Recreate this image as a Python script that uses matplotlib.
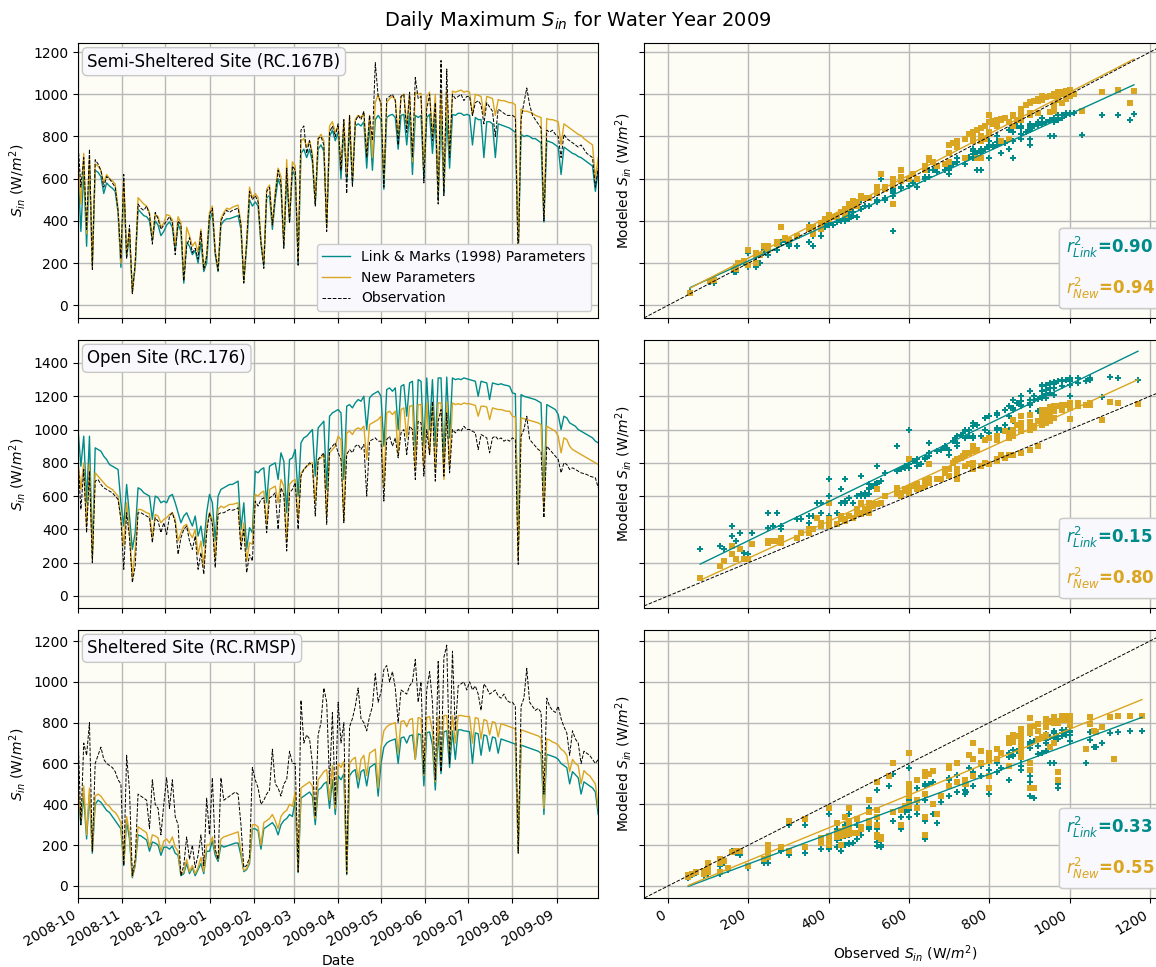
import numpy as np
import pandas as pd
import matplotlib
matplotlib.use("Agg")
import matplotlib.pyplot as plt
import matplotlib.dates as mdates
from matplotlib.lines import Line2D

# every second day, 2008-10-01 .. 2009-09-29 (one row per month)
start_date = "2008-10-01"

# ---- Semi-Sheltered Site (RC.167B) ----
obs_semi = [770, 560, 700, 360, 740, 170, 690, 670, 640, 560, 610, 600, 580, 560, 450, 220,
            620, 220, 380, 55, 200, 480, 460, 450, 470, 430, 290, 440, 410, 360, 380,
            400, 420, 390, 240, 400, 380, 115, 280, 320, 250, 270, 220, 350, 170, 230,
            430, 460, 250, 165, 400, 430, 450, 440, 450, 455, 460, 380, 105, 300, 540, 500,
            520, 490, 300, 175, 540, 560, 380, 520, 640, 580, 270, 650, 390, 660,
            640, 190, 830, 850, 720, 780, 700, 470, 790, 800, 760, 350, 820, 850, 800,
            860, 640, 880, 530, 900, 560, 870, 900, 880, 920, 700, 900, 780, 1150, 990,
            960, 560, 980, 990, 1000, 970, 760, 990, 1000, 820, 1010, 700, 1080, 980, 990, 580,
            930, 1000, 780, 960, 480, 1160, 520, 1120, 700, 1000, 980, 990, 1000, 970, 990,
            990, 900, 960, 970, 950, 860, 960, 940, 920, 800, 930, 920, 910, 900, 900,
            900, 890, 200, 880, 960, 1030, 950, 900, 880, 860, 840, 400, 830, 820, 830, 810,
            800, 700, 810, 790, 780, 770, 760, 750, 760, 740, 720, 710, 700, 560, 650]
link_semi = [640, 350, 640, 280, 670, 190, 640, 630, 610, 530, 580, 565, 555, 540, 440, 180,
             560, 230, 330, 70, 180, 455, 440, 425, 420, 400, 310, 400, 380, 330, 350,
             380, 395, 370, 260, 385, 350, 105, 300, 280, 240, 260, 200, 300, 160, 200,
             400, 440, 240, 160, 380, 400, 410, 410, 415, 420, 425, 360, 110, 280, 500, 470,
             490, 470, 290, 190, 510, 520, 360, 500, 600, 560, 280, 610, 400, 640,
             610, 200, 720, 740, 700, 740, 680, 480, 740, 760, 730, 380, 800, 830, 780,
             820, 600, 840, 600, 850, 580, 850, 860, 850, 870, 650, 860, 640, 880, 900,
             880, 550, 890, 900, 905, 890, 740, 900, 905, 760, 910, 620, 900, 890, 900, 600,
             890, 905, 720, 890, 500, 905, 530, 900, 650, 905, 900, 910, 910, 900, 905,
             900, 760, 890, 880, 880, 700, 870, 870, 860, 700, 860, 855, 850, 845, 840,
             830, 820, 250, 810, 800, 805, 800, 790, 790, 780, 770, 395, 780, 775, 770, 760,
             750, 620, 750, 740, 730, 720, 715, 705, 700, 690, 680, 670, 660, 540, 640]
new_semi = [700, 480, 720, 340, 700, 180, 670, 660, 640, 580, 620, 600, 590, 575, 460, 200,
            600, 240, 360, 60, 190, 510, 495, 480, 470, 440, 320, 430, 420, 370, 390,
            430, 425, 405, 280, 420, 390, 120, 370, 330, 280, 300, 250, 360, 170, 240,
            440, 470, 260, 170, 410, 440, 460, 455, 465, 470, 475, 390, 115, 310, 560, 510,
            530, 510, 310, 200, 550, 570, 380, 540, 650, 610, 290, 690, 410, 680,
            660, 210, 780, 790, 750, 780, 720, 490, 790, 810, 780, 370, 850, 870, 820,
            850, 650, 880, 620, 900, 600, 880, 900, 890, 910, 720, 900, 700, 960, 1000,
            950, 600, 960, 980, 990, 975, 800, 990, 1000, 850, 1000, 680, 1010, 1000, 1005, 640,
            990, 1010, 800, 1000, 520, 1015, 560, 1020, 720, 1015, 1010, 1015, 1020, 1010, 1015,
            1010, 900, 1000, 995, 990, 900, 990, 985, 980, 900, 975, 970, 970, 965, 960,
            960, 950, 260, 930, 920, 920, 915, 910, 900, 895, 890, 420, 885, 880, 880, 875,
            870, 760, 860, 850, 840, 830, 820, 810, 805, 790, 780, 770, 760, 600, 700]

# ---- Open Site (RC.176) ----
obs_open = [820, 520, 760, 380, 750, 200, 690, 700, 670, 650, 640, 630, 620, 600, 580, 460,
            160, 500, 350, 80, 180, 500, 500, 490, 480, 470, 320, 470, 450, 380, 440,
            370, 480, 500, 440, 250, 350, 400, 420, 330, 280, 360, 160, 260, 130, 380,
            500, 430, 170, 490, 500, 500, 510, 520, 515, 520, 530, 280, 400, 140, 250, 210,
            570, 540, 580, 590, 380, 590, 600, 620, 400, 650, 610, 270, 620, 640,
            680, 400, 720, 760, 780, 800, 790, 480, 820, 840, 860, 430, 880, 900, 920,
            860, 820, 440, 850, 880, 860, 900, 910, 880, 910, 600, 930, 940, 950, 930,
            930, 570, 940, 960, 900, 950, 830, 980, 1000, 850, 1020, 1000, 700, 1050, 1040, 720,
            1000, 850, 1170, 690, 1050, 1120, 720, 1100, 740, 1000, 980, 1000, 990, 1020, 1000,
            1000, 990, 980, 880, 970, 960, 950, 860, 950, 960, 940, 950, 930, 940, 930,
            950, 940, 190, 960, 1000, 1080, 940, 920, 900, 880, 870, 470, 900, 880, 860, 840,
            820, 740, 800, 790, 760, 770, 760, 750, 740, 735, 730, 720, 715, 710, 650]
link_open = [1000, 780, 960, 560, 960, 250, 890, 880, 870, 840, 820, 790, 780, 770, 760, 560,
             420, 670, 480, 280, 380, 650, 640, 620, 610, 600, 460, 600, 590, 560, 570,
             560, 600, 610, 560, 500, 440, 480, 500, 460, 420, 480, 360, 420, 300, 500,
             610, 560, 330, 600, 640, 650, 660, 670, 670, 680, 690, 400, 560, 280, 410, 380,
             750, 740, 760, 770, 560, 780, 790, 800, 700, 860, 810, 500, 820, 830,
             880, 600, 920, 950, 960, 980, 1000, 720, 1010, 1030, 1050, 640, 1080, 1100, 1110,
             1120, 1100, 700, 1140, 1150, 1130, 1160, 1180, 1170, 1200, 1000, 1190, 1210, 1220, 1230,
             1200, 900, 1240, 1250, 1230, 1250, 1000, 1260, 1270, 1080, 1280, 1290, 850, 1300, 1290, 900,
             1310, 1000, 1300, 900, 1310, 1310, 820, 1315, 950, 1310, 1300, 1305, 1300, 1310, 1305,
             1300, 1295, 1290, 1200, 1290, 1285, 1280, 1180, 1280, 1275, 1270, 1275, 1268, 1265, 1260,
             1220, 1215, 260, 1210, 1200, 1195, 1190, 1185, 1180, 1170, 1160, 600, 1150, 1140, 1130, 1120,
             1090, 1000, 1080, 1070, 1040, 1030, 1020, 1000, 990, 980, 970, 960, 950, 930, 920]
new_open = [810, 640, 800, 420, 790, 220, 740, 720, 700, 680, 660, 650, 640, 620, 600, 470,
            300, 560, 400, 110, 280, 520, 520, 510, 500, 495, 350, 490, 480, 440, 460,
            470, 490, 500, 460, 330, 380, 420, 430, 380, 350, 400, 250, 330, 180, 420,
            500, 460, 220, 520, 540, 530, 540, 550, 550, 555, 560, 320, 440, 210, 320, 310,
            610, 600, 620, 630, 430, 640, 650, 660, 560, 700, 660, 330, 670, 690,
            700, 460, 740, 760, 780, 790, 800, 560, 820, 830, 850, 480, 860, 880, 900,
            960, 940, 450, 980, 990, 970, 1000, 1010, 1000, 1020, 820, 1030, 1040, 1050, 1060,
            1080, 650, 1100, 1110, 1090, 1110, 850, 1120, 1130, 950, 1140, 1145, 760, 1150, 1150, 760,
            1160, 850, 1155, 760, 1160, 1160, 700, 1165, 780, 1160, 1150, 1155, 1150, 1160, 1155,
            1155, 1150, 1145, 1080, 1140, 1140, 1135, 1060, 1130, 1125, 1120, 1120, 1115, 1110, 1110,
            1080, 1075, 220, 1070, 1065, 1060, 1055, 1050, 1045, 1040, 1030, 520, 1020, 1010, 1000, 990,
            960, 860, 950, 940, 900, 880, 870, 860, 850, 840, 830, 820, 810, 800, 790]

# ---- Sheltered Site (RC.RMSP) ----
obs_shel = [742, 300, 700, 640, 800, 170, 600, 640, 680, 620, 600, 590, 580, 560, 520, 500,
            100, 640, 470, 50, 130, 450, 440, 430, 420, 280, 520, 400, 380, 250, 400,
            530, 380, 520, 340, 300, 50, 100, 240, 130, 200, 90, 150, 250, 100, 430,
            250, 530, 180, 130, 530, 420, 430, 440, 450, 460, 450, 300, 90, 100, 140, 580,
            520, 480, 400, 420, 450, 470, 670, 500, 480, 440, 500, 520, 660, 600,
            600, 70, 910, 700, 740, 720, 600, 340, 740, 800, 970, 900, 500, 850, 400,
            900, 700, 800, 60, 780, 820, 880, 970, 820, 800, 760, 830, 880, 1040, 900,
            950, 1060, 1080, 1000, 1050, 970, 800, 960, 950, 940, 980, 1000, 1110, 900, 1000, 550,
            960, 1050, 900, 520, 1100, 560, 1120, 1180, 600, 1150, 760, 980, 990, 1000, 960,
            1000, 960, 980, 940, 860, 990, 970, 940, 950, 960, 930, 920, 940, 910, 900,
            900, 880, 160, 880, 920, 1066, 900, 880, 860, 870, 850, 450, 920, 880, 860, 850,
            880, 820, 780, 750, 640, 760, 720, 700, 600, 660, 650, 640, 620, 600, 620]
link_shel = [460, 300, 440, 230, 450, 160, 400, 420, 410, 390, 370, 360, 340, 320, 300, 280,
             100, 320, 230, 40, 100, 250, 245, 235, 225, 170, 215, 210, 200, 150, 190,
             190, 180, 195, 160, 150, 50, 60, 110, 60, 90, 50, 80, 110, 60, 170,
             170, 220, 150, 120, 200, 190, 195, 200, 205, 210, 210, 150, 70, 80, 110, 280,
             280, 270, 180, 280, 290, 300, 310, 290, 250, 300, 320, 330, 350, 340,
             420, 65, 430, 440, 450, 460, 440, 300, 470, 480, 500, 510, 380, 520, 350,
             540, 520, 550, 55, 540, 560, 570, 480, 560, 570, 490, 580, 590, 600, 440,
             600, 680, 700, 710, 715, 720, 600, 725, 730, 700, 735, 740, 620, 745, 740, 490,
             750, 755, 690, 470, 750, 550, 755, 760, 580, 760, 620, 765, 765, 760, 758,
             755, 600, 750, 745, 640, 740, 735, 660, 730, 725, 650, 720, 715, 710, 705,
             700, 695, 170, 690, 685, 680, 675, 670, 665, 660, 650, 350, 645, 640, 635, 630,
             620, 600, 590, 580, 500, 560, 545, 530, 450, 510, 500, 490, 480, 460, 350]
new_shel = [500, 320, 490, 250, 480, 170, 440, 450, 440, 420, 400, 390, 370, 360, 340, 310,
            110, 340, 260, 45, 110, 290, 280, 270, 260, 190, 250, 245, 235, 170, 220,
            230, 210, 240, 190, 170, 55, 70, 130, 70, 100, 60, 90, 140, 70, 200,
            200, 240, 170, 130, 230, 240, 245, 250, 255, 260, 265, 170, 75, 85, 120, 300,
            300, 290, 200, 310, 320, 330, 350, 320, 280, 340, 360, 370, 400, 390,
            460, 70, 480, 490, 500, 510, 490, 330, 520, 540, 560, 570, 420, 590, 380,
            600, 580, 610, 60, 600, 620, 630, 520, 620, 640, 540, 650, 660, 670, 480,
            680, 760, 780, 790, 795, 800, 650, 805, 810, 780, 815, 820, 620, 825, 820, 540,
            825, 830, 760, 510, 830, 600, 835, 835, 650, 835, 700, 835, 835, 832, 830,
            830, 700, 825, 820, 720, 815, 810, 740, 805, 800, 730, 795, 790, 785, 780,
            775, 770, 165, 765, 760, 755, 750, 745, 740, 735, 725, 380, 720, 715, 705, 700,
            690, 670, 660, 640, 560, 620, 600, 590, 500, 565, 550, 540, 520, 500, 380]

site_names = ["Semi-Sheltered Site (RC.167B)", "Open Site (RC.176)", "Sheltered Site (RC.RMSP)"]
r2_link = ["0.90", "0.15", "0.33"]
r2_new = ["0.94", "0.80", "0.55"]

sites = [(obs_semi, link_semi, new_semi),
         (obs_open, link_open, new_open),
         (obs_shel, link_shel, new_shel)]

teal = "#008b8b"
gold = "#daa520"
bg = "#fdfdf6"
box_fc = "#f9f8fc"

fig = plt.figure(figsize=(11.56, 9.67), dpi=100)
fig.text(0.5, 1 - 20 / 967, "Daily Maximum $S_{in}$ for Water Year 2009",
         ha="center", va="center", fontsize=14)

# panel rows in figure fractions (bottom, height) and y limits
rows = [(0.6712, 0.2843, (-60, 1243)),
        (0.3713, 0.2771, (-72, 1538)),
        (0.0714, 0.2771, (-59, 1254))]

axL0 = axR0 = None
for k, (obs, link, new) in enumerate(sites):
    bottom, height, ylim = rows[k]
    axL = fig.add_axes([0.0675, bottom, 0.45, height], sharex=axL0)
    axR = fig.add_axes([0.5571, bottom, 0.4516, height], sharex=axR0, sharey=axL)
    if axL0 is None:
        axL0, axR0 = axL, axR

    obs = np.array(obs, dtype=float)
    link = np.array(link, dtype=float)
    new = np.array(new, dtype=float)
    dates = pd.date_range(start_date, periods=len(obs), freq="2D")

    # time series
    for ax in (axL, axR):
        ax.set_facecolor(bg)
        ax.grid(True, color="#b8b8b8", lw=1.0)
        ax.set_axisbelow(True)
    l1, = axL.plot(dates, link, color=teal, lw=1.0, label="Link & Marks (1998) Parameters")
    l2, = axL.plot(dates, new, color=gold, lw=1.0, label="New Parameters")
    l3, = axL.plot(dates, obs, color="k", ls="--", lw=0.7, label="Observation")
    axL.set_ylim(*ylim)
    axL.set_xlim(pd.Timestamp("2008-10-01"), pd.Timestamp("2009-09-30"))
    axL.set_ylabel("$S_{in}$ (W/$m^2$)", fontsize=10)
    axL.text(0.018, 0.965, site_names[k], transform=axL.transAxes, fontsize=12,
             va="top", ha="left",
             bbox=dict(boxstyle="round,pad=0.3", fc=box_fc, ec="#c8c8c8"))
    if k == 0:
        axL.legend(handles=[l1, l2, l3], loc="lower right", fontsize=10,
                   facecolor=box_fc, framealpha=1.0, edgecolor="#cccccc")

    # scatter
    s1 = axR.scatter(obs, link, marker="P", s=20, color=teal, lw=0,
                     label="Link & Marks (1998) Parameters")
    s2 = axR.scatter(obs, new, marker="s", s=13, color=gold, lw=0, label="New Parameters")
    xs = np.array([obs.min(), obs.max()])
    p_link = np.polyfit(obs, link, 1)
    p_new = np.polyfit(obs, new, 1)
    axR.plot(xs, np.polyval(p_link, xs), color=teal, lw=1.0)
    axR.plot(xs, np.polyval(p_new, xs), color=gold, lw=1.0)
    one = axR.axline((0, 0), slope=1, color="k", ls="--", lw=0.7, label="1:1 Line")
    axR.set_xlim(-60, 1240)
    axR.set_ylabel("Modeled $S_{in}$ (W/$m^2$)", fontsize=10)
    axR.tick_params(labelleft=False)
    if k == 0:
        axR.legend(handles=[s1, s2, one], loc="upper left", fontsize=10,
                   facecolor=box_fc, framealpha=1.0, edgecolor="#cccccc")

    blank = [Line2D([], [], ls="none"), Line2D([], [], ls="none")]
    leg = axR.legend(blank, [r"$r^2_{Link}$=" + r2_link[k], r"$r^2_{New}$=" + r2_new[k]],
                     loc="lower right", bbox_to_anchor=(1.01, 0.0),
                     handlelength=0, handletextpad=0,
                     labelcolor=[teal, gold], prop={"weight": "bold", "size": 12},
                     facecolor=box_fc, framealpha=1.0, edgecolor="#cccccc",
                     borderaxespad=0.6, labelspacing=1.0)
    if k == 0:
        axR.add_artist(axR.get_legend())
    axR.add_artist(leg)

    if k < 2:
        axL.tick_params(labelbottom=False)
        axR.tick_params(labelbottom=False)

axL0.xaxis.set_major_locator(mdates.MonthLocator())
axL0.xaxis.set_major_formatter(mdates.DateFormatter("%Y-%m"))

last_L = fig.axes[-2]
last_R = fig.axes[-1]
for lab in last_L.get_xticklabels():
    lab.set_rotation(30)
    lab.set_ha("right")
last_L.set_xlabel("Date", fontsize=10)
axR0.xaxis.set_major_locator(matplotlib.ticker.MultipleLocator(200))
for lab in last_R.get_xticklabels():
    lab.set_rotation(30)
    lab.set_ha("right")
last_R.set_xlabel("Observed $S_{in}$ (W/$m^2$)", fontsize=10)

for ax in fig.axes:
    ax.yaxis.set_major_locator(matplotlib.ticker.MultipleLocator(200))

fig.savefig("out.png", dpi=100)
